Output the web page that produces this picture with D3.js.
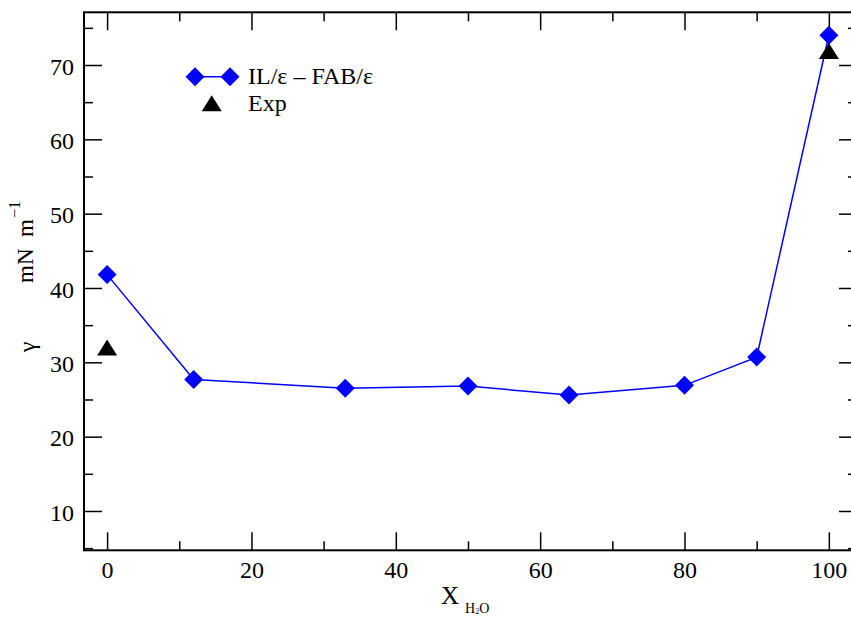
<!DOCTYPE html>
<html><head><meta charset="utf-8">
<script src="https://cdn.jsdelivr.net/npm/d3@7"></script>
<style>html,body{margin:0;padding:0;background:#fff;}svg{display:block;}</style>
</head><body>
<script>
// ---- data ----
const xValues = [0, 12, 33, 50, 64, 80, 90, 100];
const simValues = [41.8, 27.7, 26.5, 26.8, 25.6, 26.9, 30.7, 74.0];
const expX = [0, 100];
const expValues = [32.0, 71.9];
const xTicks = [0, 20, 40, 60, 80, 100];
const yTicks = [10, 20, 30, 40, 50, 60, 70];
const seriesNames = ["IL/\u03b5 \u2013 FAB/\u03b5", "Exp"];

const W = 851, H = 617;
const L = 84, R = 857, T = 12.3, B = 550.3;
const svg = d3.select("body").append("svg").attr("width", W).attr("height", H);
const font = "'Liberation Serif', 'Times New Roman', serif";

const x = d3.scaleLinear().domain([-3.2, 103.9]).range([L, R]);
const y = d3.scaleLinear().domain([4.71, 77.09]).range([B, T]);

const majorLen = 18, minorLen = 9;
const xMinor = d3.range(10, 101, 20);
const yMinor = d3.range(5, 76, 10);

const g = svg.append("g");
// bottom axis
const bx = g.append("g").attr("transform", `translate(0,${B})`)
  .call(d3.axisBottom(x).tickValues(xTicks).tickSize(-majorLen).tickPadding(0).tickFormat(d3.format("d")));
bx.select(".domain").remove();
bx.selectAll(".tick line").attr("stroke", "#000").attr("stroke-width", 1.5);
bx.selectAll(".tick text").attr("font-family", font).attr("font-size", 24).attr("fill", "#000")
  .attr("y", 0).attr("dy", 0).attr("transform", "translate(0,27.2)");
g.append("g").attr("transform", `translate(0,${B})`)
  .call(d3.axisBottom(x).tickValues(xMinor).tickSize(-minorLen).tickFormat(""))
  .call(s => s.select(".domain").remove()).selectAll("line").attr("stroke", "#000").attr("stroke-width", 1.5);
// top axis
g.append("g").attr("transform", `translate(0,${T})`)
  .call(d3.axisTop(x).tickValues(xTicks).tickSize(-majorLen).tickFormat(""))
  .call(s => s.select(".domain").remove()).selectAll("line").attr("stroke", "#000").attr("stroke-width", 1.5);
g.append("g").attr("transform", `translate(0,${T})`)
  .call(d3.axisTop(x).tickValues(xMinor).tickSize(-minorLen).tickFormat(""))
  .call(s => s.select(".domain").remove()).selectAll("line").attr("stroke", "#000").attr("stroke-width", 1.5);
// left axis
const ly = g.append("g").attr("transform", `translate(${L},0)`)
  .call(d3.axisLeft(y).tickValues(yTicks).tickSize(-majorLen).tickPadding(0).tickFormat(d3.format("d")));
ly.select(".domain").remove();
ly.selectAll(".tick line").attr("stroke", "#000").attr("stroke-width", 1.5);
ly.selectAll(".tick text").attr("font-family", font).attr("font-size", 24).attr("fill", "#000")
  .attr("x", -10).attr("dy", "0.38em").attr("text-anchor", "end");
g.append("g").attr("transform", `translate(${L},0)`)
  .call(d3.axisLeft(y).tickValues(yMinor).tickSize(-minorLen).tickFormat(""))
  .call(s => s.select(".domain").remove()).selectAll("line").attr("stroke", "#000").attr("stroke-width", 1.5);
// right axis
g.append("g").attr("transform", `translate(${R},0)`)
  .call(d3.axisRight(y).tickValues(yTicks).tickSize(-majorLen).tickFormat(""))
  .call(s => s.select(".domain").remove()).selectAll("line").attr("stroke", "#000").attr("stroke-width", 1.5);
g.append("g").attr("transform", `translate(${R},0)`)
  .call(d3.axisRight(y).tickValues(yMinor).tickSize(-minorLen).tickFormat(""))
  .call(s => s.select(".domain").remove()).selectAll("line").attr("stroke", "#000").attr("stroke-width", 1.5);
// frame
g.append("rect").attr("x", L).attr("y", T).attr("width", R - L).attr("height", B - T)
  .attr("fill", "none").attr("stroke", "#000").attr("stroke-width", 2);

// data line
const data = xValues.map((d, i) => ({x: d, y: simValues[i]}));
g.append("path").datum(data)
  .attr("d", d3.line().x(d => x(d.x)).y(d => y(d.y)))
  .attr("fill", "none").attr("stroke", "#0000ff").attr("stroke-width", 1.5);

const dHalf = 9.5;
function diamond(cx, cy) {
  return `M${cx},${cy - dHalf}L${cx + dHalf},${cy}L${cx},${cy + dHalf}L${cx - dHalf},${cy}Z`;
}
function triangle(cx, cy) {
  const hw = 10, hh = 8;
  return `M${cx},${cy - hh}L${cx + hw},${cy + hh}L${cx - hw},${cy + hh}Z`;
}
g.selectAll(".dia").data(data).enter().append("path")
  .attr("d", d => diamond(x(d.x), y(d.y))).attr("fill", "#0000ff");
const exp = expX.map((d, i) => ({x: d, y: expValues[i]}));
g.selectAll(".tri").data(exp).enter().append("path")
  .attr("d", d => triangle(x(d.x), y(d.y))).attr("fill", "#000");

// legend
const lg = svg.append("g");
lg.append("line").attr("x1", 195).attr("x2", 230).attr("y1", 76.7).attr("y2", 76.7)
  .attr("stroke", "#0000ff").attr("stroke-width", 1.5);
lg.append("path").attr("d", diamond(195, 76.7)).attr("fill", "#0000ff");
lg.append("path").attr("d", diamond(230, 76.7)).attr("fill", "#0000ff");
lg.append("text").attr("x", 248).attr("y", 83.5).attr("font-family", font).attr("font-size", 24)
  .text(seriesNames[0]);
lg.append("path").attr("d", triangle(211.7, 103.3)).attr("fill", "#000");
lg.append("text").attr("x", 248).attr("y", 110.5).attr("font-family", font).attr("font-size", 24)
  .text(seriesNames[1]);

// x axis label
const xl = svg.append("text").attr("x", 441).attr("y", 603.5).attr("font-family", font).attr("font-size", 25);
xl.append("tspan").text("X");
xl.append("tspan").attr("dx", 6).attr("dy", 9).attr("font-size", 14).text("H");
xl.append("tspan").attr("dy", 1).attr("font-size", 8).text("2");
xl.append("tspan").attr("dy", -1).attr("font-size", 14).text("O");

// y axis label
svg.append("text").attr("transform", "rotate(-90)").attr("x", -347).attr("y", 35)
  .attr("text-anchor", "middle").attr("font-family", font).attr("font-size", 24).text("\u03b3");
const yl = svg.append("text").attr("transform", "rotate(-90)").attr("x", -283).attr("y", 33.3)
  .attr("font-family", font).attr("font-size", 23);
yl.append("tspan").text("mN\u00a0\u00a0m");
yl.append("tspan").attr("dy", -13).attr("dx", 1).attr("font-size", 16).text("\u22121");
</script>
</body></html>
